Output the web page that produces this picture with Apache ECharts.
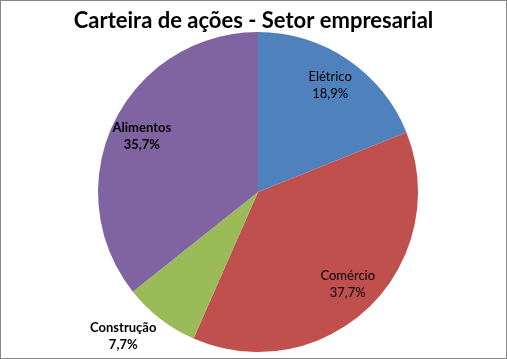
<!DOCTYPE html>
<html>
<head>
<meta charset="utf-8">
<script src="https://cdn.jsdelivr.net/npm/echarts@6/dist/echarts.min.js"></script>
<style>
html,body{margin:0;padding:0;background:#fff;}
#wrap{position:absolute;left:0;top:0;width:505px;height:357px;border:1px solid #878787;border-right-width:2px;border-bottom-width:2px;}
#chart{width:505px;height:357px;}
</style>
</head>
<body>
<div id="wrap"><div id="chart"></div></div>
<script>
var titleText = 'Carteira de ações - Setor empresarial';
var categories = ['Elétrico', 'Comércio', 'Construção', 'Alimentos'];
var values = [18.9, 37.7, 7.7, 35.7];
var colors = ['#4F81BD', '#C0504D', '#9BBB59', '#8064A2'];

var chart = echarts.init(document.getElementById('chart'), null, {renderer: 'canvas'});

function fmt(p) {
  return p.name + '\n' + p.value.toFixed(1).replace('.', ',') + '%';
}

var mainData = categories.map(function (c, i) {
  return {name: c, value: values[i], itemStyle: {color: colors[i]}};
});
var labelData = categories.map(function (c, i) {
  var d = {name: c, value: values[i]};
  if (c === 'Construção') {
    d.label = {offset: [-56, 42], fontWeight: 'bold'};
  }
  if (c === 'Alimentos') {
    d.label = {fontWeight: 'bold'};
  }
  return d;
});

chart.setOption({
  animation: false,
  backgroundColor: '#fff',
  title: {
    text: titleText,
    left: 'center',
    top: 4,
    textStyle: {fontFamily: 'Lato', fontWeight: 'bold', fontSize: 22, color: '#000'}
  },
  series: [
    {
      type: 'pie',
      center: [257, 191],
      radius: [0, 160],
      startAngle: 90,
      clockwise: true,
      silent: true,
      label: {show: false},
      labelLine: {show: false},
      data: mainData
    },
    {
      type: 'pie',
      center: [257, 191],
      radius: [0, 252],
      startAngle: 90,
      clockwise: true,
      silent: true,
      avoidLabelOverlap: false,
      itemStyle: {color: 'rgba(0,0,0,0)'},
      label: {
        show: true,
        position: 'inside',
        formatter: fmt,
        fontFamily: 'Lato',
        fontSize: 13,
        lineHeight: 17,
        color: '#000',
        align: 'center'
      },
      labelLine: {show: false},
      data: labelData
    }
  ]
});
</script>
</body>
</html>
